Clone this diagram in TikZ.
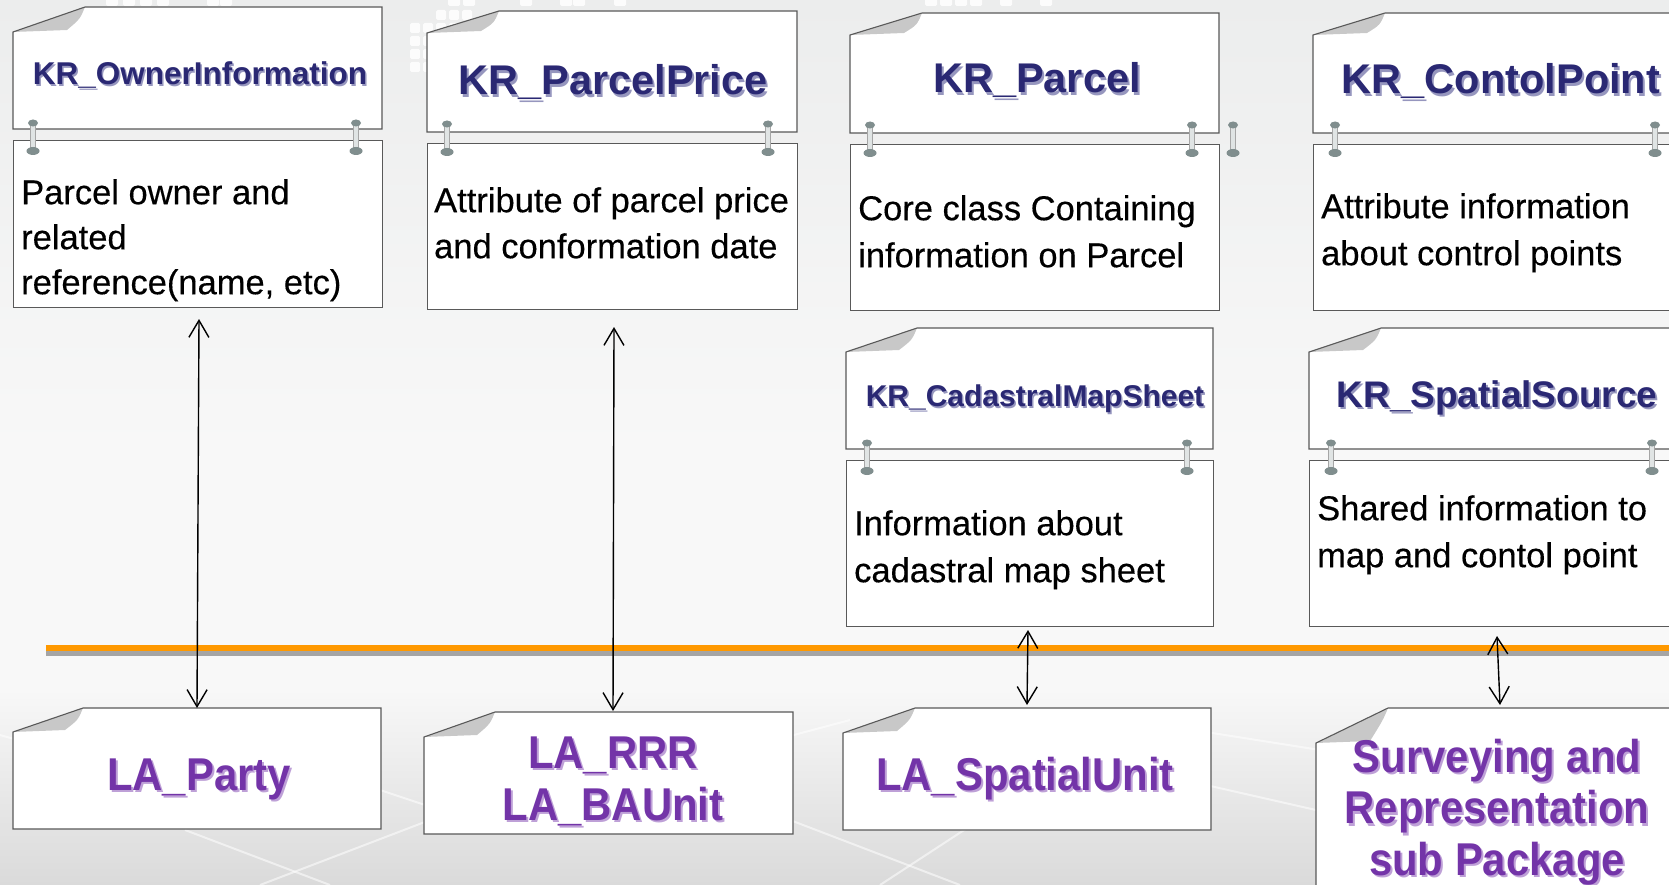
\documentclass[tikz,border=0pt]{standalone}
\usepackage{fontspec}
\setmainfont{Liberation Sans}
\newfontfamily\lafont[FakeStretch=0.91]{Liberation Sans}
\newfontfamily\descfont[FakeBold=0.35]{Liberation Sans}
\usetikzlibrary{arrows.meta}
\definecolor{navy}{RGB}{42,40,115}
\definecolor{navyshadow}{RGB}{150,150,190}
\definecolor{lapurple}{RGB}{115,52,168}
\definecolor{lashadow}{RGB}{190,160,215}
\definecolor{foldgray}{RGB}{200,200,200}
\definecolor{barorange}{RGB}{255,153,0}
\definecolor{bargray}{RGB}{165,165,165}
\definecolor{clipdark}{RGB}{128,142,142}
\definecolor{clipshaft}{RGB}{224,228,228}
\definecolor{bgtop}{RGB}{236,237,237}
\definecolor{bgmid}{RGB}{248,248,248}
\definecolor{bgbot}{RGB}{218,218,218}
\tikzset{
  boxline/.style={draw=black!65, line width=1.1pt},
  descbox/.style={boxline, fill=white, rectangle, inner sep=0pt, anchor=north west},
  titletext/.style={text=navy, anchor=base, inner sep=0pt},
  titleshadow/.style={text=navyshadow, anchor=base, inner sep=0pt},
  desctext/.style={text=black, anchor=north west, align=left, inner sep=0pt},
  latext/.style={text=lapurple, inner sep=0pt, align=center},
  lashadowtext/.style={text=lashadow, inner sep=0pt, align=center},
  arr/.style={{Straight Barb[length=17pt,width=20pt]}-{Straight Barb[length=17pt,width=20pt]}, line width=1.4pt},
  bgline/.style={white, line width=2pt, opacity=0.55},
  deco/.style={fill=white, opacity=0.85, rounded corners=1.5pt},
}
% L, T, R, B, left-top, fold x
\newcommand\foldshape[6]{%
  \fill[white] (#1,#5) -- (#6,#2) -- (#3,#2) -- (#3,#4) -- (#1,#4) -- cycle;
  \fill[foldgray] (#1,#5) -- (#6,#2) .. controls ({#6-5},{#2+12}) .. ({#6-18},{#5-2}) -- cycle;
  \draw[boxline] (#1,#5) -- (#6,#2) -- (#3,#2) -- (#3,#4) -- (#1,#4) -- cycle;
}
\newcommand\pclip[2]{%
  \fill[clipshaft, draw=gray!70, line width=0.6pt] ({#1-2.5},{#2+3}) rectangle ({#1+2.5},{#2+30});
  \fill[clipdark] (#1,{#2+3}) ellipse [x radius=5pt, y radius=3.5pt];
  \fill[clipdark] (#1,{#2+31}) ellipse [x radius=6.5pt, y radius=4pt];
}
\begin{document}
\begin{tikzpicture}[x=1pt,y=-1pt]
\useasboundingbox (0,0) rectangle (1669,885);
\clip (0,0) rectangle (1669,885);
% background
\shade[top color=bgtop, bottom color=bgmid] (0,0) rectangle (1669,450);
\fill[bgmid] (0,449) rectangle (1669,690);
\shade[top color=bgmid, bottom color=bgbot] (0,689) rectangle (1669,885);
\draw[bgline] (0,735) -- (60,752);
\draw[bgline] (185,830) -- (330,885);
\draw[bgline] (260,885) -- (430,820);
\draw[bgline] (380,790) -- (440,810);
\draw[bgline] (790,820) -- (960,885);
\draw[bgline] (880,885) -- (1010,800);
\draw[bgline] (1130,720) -- (1320,750);
\draw[bgline] (1140,770) -- (1316,810);
\draw[bgline] (700,760) -- (850,720);
% top decorations
\foreach \x in {106,123,140,157,207,220,448,463,520,560,573,614,925,940,955,970,1000,1040}
  \fill[deco] (\x,-3) rectangle ++(12,9);
\foreach \x in {410,423,436,449,462}
  \foreach \y in {23,36,49,62}
    \fill[deco] (\x,\y) rectangle ++(10,10);
\foreach \x in {436,449,462}
  \fill[deco] (\x,10) rectangle ++(10,10);
% orange separator
\fill[barorange] (46,645) rectangle (1669,651);
\fill[bargray] (46,651) rectangle (1669,656);
% upper title boxes
\foldshape{13}{7}{382}{129}{32}{85}
\foldshape{427}{11}{797}{132}{33}{499}
\foldshape{850}{13}{1219}{133}{35}{922}
\foldshape{1313}{13}{1710}{133}{35}{1385}
\foldshape{846}{328}{1213}{449}{352}{917}
\foldshape{1309}{328}{1710}{449}{352}{1381}
% lower boxes
\foldshape{13}{708}{381}{829}{732}{83}
\foldshape{424}{712}{793}{834}{737}{495}
\foldshape{843}{708}{1211}{830}{733}{915}
\foldshape{1316}{708}{1710}{900}{743}{1388}
% description boxes
\node[descbox, minimum width=369pt, minimum height=167pt] (d1) at (13,140) {};
\node[descbox, minimum width=370pt, minimum height=166pt] (d2) at (427,143) {};
\node[descbox, minimum width=369pt, minimum height=166pt] (d3) at (850,144) {};
\node[descbox, minimum width=400pt, minimum height=166pt] (d4) at (1313,144) {};
\node[descbox, minimum width=367pt, minimum height=166pt] (d5) at (846,460) {};
\node[descbox, minimum width=400pt, minimum height=166pt] (d6) at (1309,460) {};
% clips
\pclip{33}{120}\pclip{356}{120}
\pclip{447}{121}\pclip{768}{121}
\pclip{870}{122}\pclip{1192}{122}\pclip{1233}{122}
\pclip{1335}{122}\pclip{1655}{122}
\pclip{867}{440}\pclip{1187}{440}
\pclip{1331}{440}\pclip{1652}{440}
% title shadows
\node[titleshadow, font=\bfseries\fontsize{31.5}{36}\selectfont] (s1) at (201.5,87) {KR\_OwnerInformation};
\node[titleshadow, font=\bfseries\fontsize{41.5}{48}\selectfont] (s2) at (615,97.5) {KR\_ParcelPrice};
\node[titleshadow, font=\bfseries\fontsize{41.5}{48}\selectfont] (s3) at (1039,95.5) {KR\_Parcel};
\node[titleshadow, font=\bfseries\fontsize{41.5}{48}\selectfont] (s4) at (1503,96.5) {KR\_ContolPoint};
\node[titleshadow, font=\bfseries\fontsize{30}{36}\selectfont] (s5) at (1036.5,408) {KR\_CadastralMapSheet};
\node[titleshadow, font=\bfseries\fontsize{37}{44}\selectfont] (s6) at (1499,409) {KR\_SpatialSource};
% titles
\node[titletext, font=\bfseries\fontsize{31.5}{36}\selectfont] (t1) at (200,85) {KR\_OwnerInformation};
\node[titletext, font=\bfseries\fontsize{41.5}{48}\selectfont] (t2) at (613,95) {KR\_ParcelPrice};
\node[titletext, font=\bfseries\fontsize{41.5}{48}\selectfont] (t3) at (1037,93) {KR\_Parcel};
\node[titletext, font=\bfseries\fontsize{41.5}{48}\selectfont] (t4) at (1501,94) {KR\_ContolPoint};
\node[titletext, font=\bfseries\fontsize{30}{36}\selectfont] (t5) at (1035,406) {KR\_CadastralMapSheet};
\node[titletext, font=\bfseries\fontsize{37}{44}\selectfont] (t6) at (1497,407) {KR\_SpatialSource};
% description texts
\node[desctext, font=\descfont\fontsize{34.5}{45}\selectfont] (x1) at (21,176) {\rule{0pt}{28pt}Parcel owner and\\related\\reference(name, etc)};
\node[desctext, font=\descfont\fontsize{34.5}{46}\selectfont] (x2) at (434,184) {\rule{0pt}{28pt}Attribute of parcel price\\and conformation date};
\node[desctext, font=\descfont\fontsize{34.5}{47}\selectfont] (x3) at (858,192) {\rule{0pt}{28pt}Core class Containing\\information on Parcel};
\node[desctext, font=\descfont\fontsize{34.5}{47}\selectfont] (x4) at (1321,190) {\rule{0pt}{28pt}Attribute information\\about control points};
\node[desctext, font=\descfont\fontsize{34.5}{47}\selectfont] (x5) at (854,507) {\rule{0pt}{28pt}Information about\\cadastral map sheet};
\node[desctext, font=\descfont\fontsize{34.5}{47}\selectfont] (x6) at (1317,492) {\rule{0pt}{28pt}Shared information to\\map and contol point};
% lower text shadows
\node[lashadowtext, anchor=base, font=\lafont\bfseries\fontsize{46}{52}\selectfont] (ls1) at (201,792.5) {LA\_Party};
\node[lashadowtext, anchor=north, font=\lafont\bfseries\fontsize{46}{52}\selectfont] (ls2) at (615,734.5) {\rule{0pt}{36pt}LA\_RRR\\LA\_BAUnit};
\node[lashadowtext, anchor=base, font=\lafont\bfseries\fontsize{46}{52}\selectfont] (ls3) at (1027,792.5) {LA\_SpatialUnit};
\node[lashadowtext, anchor=north, font=\lafont\bfseries\fontsize{46}{51.5}\selectfont] (ls4) at (1499,738.5) {\rule{0pt}{36pt}Surveying and\\Representation\\sub Package};
% lower texts
\node[latext, anchor=base, font=\lafont\bfseries\fontsize{46}{52}\selectfont] (la1) at (199,790) {LA\_Party};
\node[latext, anchor=north, font=\lafont\bfseries\fontsize{46}{52}\selectfont] (la2) at (613,732) {\rule{0pt}{36pt}LA\_RRR\\LA\_BAUnit};
\node[latext, anchor=base, font=\lafont\bfseries\fontsize{46}{52}\selectfont] (la3) at (1025,790) {LA\_SpatialUnit};
\node[latext, anchor=north, font=\lafont\bfseries\fontsize{46}{51.5}\selectfont] (la4) at (1497,736) {\rule{0pt}{36pt}Surveying and\\Representation\\sub Package};
% connectors
\coordinate (a1s) at (199,319); \coordinate (a1e) at (197,708);
\coordinate (a2s) at (614,327); \coordinate (a2e) at (613,711);
\coordinate (a3s) at (1028,630); \coordinate (a3e) at (1027,705);
\coordinate (a4s) at (1497,636); \coordinate (a4e) at (1500,705);
\draw[arr] (a1s) -- (a1e);
\draw[arr] (a2s) -- (a2e);
\draw[arr] (a3s) -- (a3e);
\draw[arr] (a4s) -- (a4e);
\end{tikzpicture}
\end{document}
